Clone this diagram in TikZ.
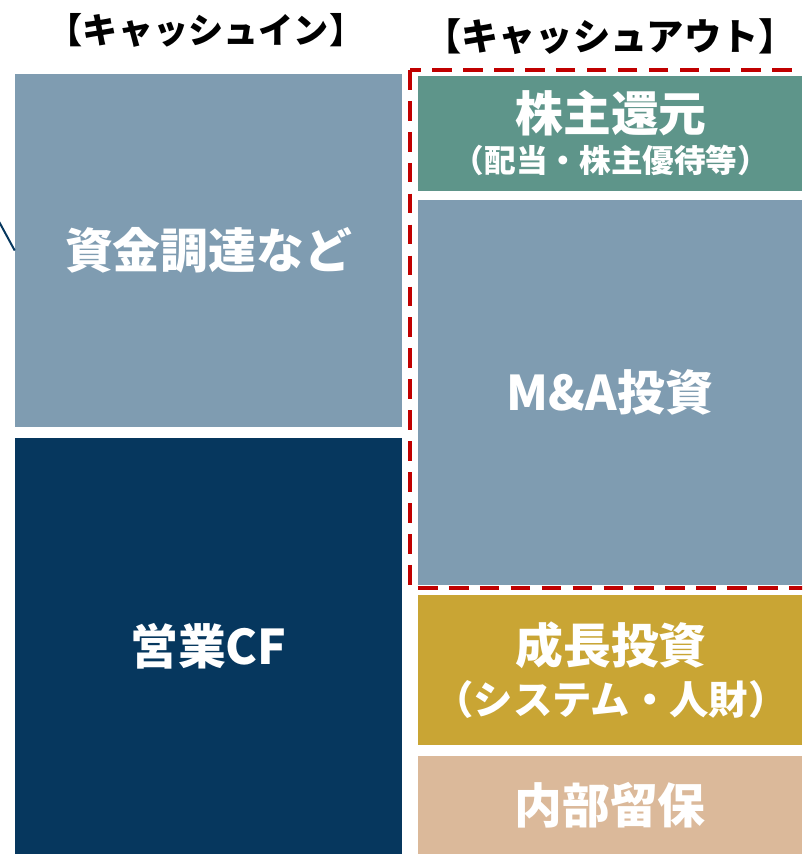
\documentclass[tikz,border=0pt]{standalone}
\usepackage{fontspec}
\setmainfont{Noto Sans CJK JP}
\definecolor{fundblue}{HTML}{7F9CB1}
\definecolor{navy}{HTML}{06375E}
\definecolor{teal2}{HTML}{5E958A}
\definecolor{gold}{HTML}{C9A534}
\definecolor{tan}{HTML}{DBB99A}
\definecolor{redline}{HTML}{C00000}
\tikzset{
	cashbox/.style={rectangle, inner sep=0pt, text=white, align=center,
		font=\bfseries\fontsize{34}{40}\selectfont},
	small/.style={font=\bfseries\fontsize{#1}{#1}\selectfont},
	head/.style={font=\bfseries\fontsize{#1}{30}\selectfont}
}
\begin{document}
\begin{tikzpicture}[x=0.025cm,y=-0.025cm]
		\useasboundingbox (0,0) rectangle (802,854);
		\clip (0,0) rectangle (802,854);
		
		% headers
		\node[head=25] (inhead) at (206,30) {【キャッシュイン】};
		\node[head=26.5] (outhead) at (610,37) {【キャッシュアウト】};
		
		% cash in
		\node[cashbox, fill=fundblue, minimum width=387*0.025cm, minimum height=353*0.025cm]
		(fund) at (208.5,250.5) {資金調達など};
		\node[cashbox, fill=navy, minimum width=387*0.025cm, minimum height=416*0.025cm]
		(opcf) at (208.5,646) {営業CF};
		
		% cash out
		\node[cashbox, fill=teal2, minimum width=384*0.025cm, minimum height=115*0.025cm]
		(ret) at (610,133.5) {};
		\node[cashbox] (rettext) at (611,113) {株主還元};
		\node[cashbox, small=22.5] (retsub) at (611,160) {（配当・株主優待等）};
		
		\node[cashbox, fill=fundblue, minimum width=384*0.025cm, minimum height=385*0.025cm]
		(ma) at (610,392.5) {M\&A投資};
		
		\node[cashbox, fill=gold, minimum width=384*0.025cm, minimum height=150*0.025cm]
		(grow) at (610,670) {};
		\node[cashbox] (growtext) at (611,645) {成長投資};
		\node[cashbox, small=28] (growsub) at (611,700) {（システム・人財）};
		
		\node[cashbox, fill=tan, minimum width=384*0.025cm, minimum height=98*0.025cm]
		(keep) at (610,805) {内部留保};
		
		% shareholder frame
		\draw[redline, line width=2.4pt, dash pattern=on 14pt off 8pt] (410,70) rectangle (810,588);
		
		% link from outside
		\coordinate (off) at (-10,205);
		\draw[navy, line width=1.4pt] (off) -- (fund.west);
		
	\end{tikzpicture}
\end{document}
